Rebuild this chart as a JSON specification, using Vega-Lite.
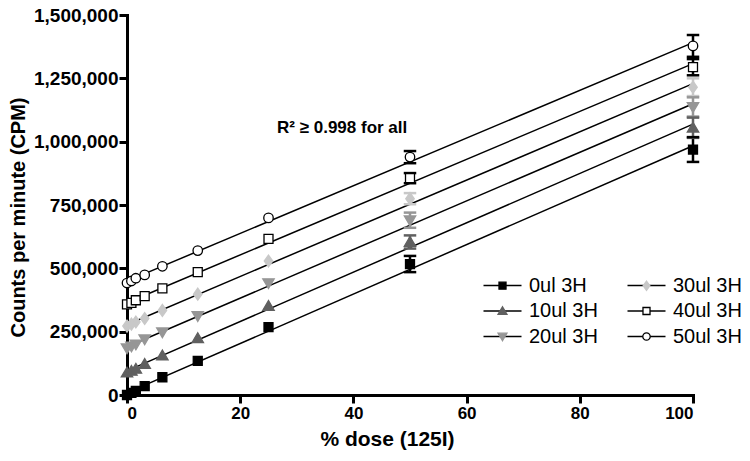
{
  "$schema": "https://vega.github.io/schema/vega-lite/v6.json",
  "width": 566,
  "height": 380,
  "autosize": {"type": "none"},
  "padding": {"left": 127, "top": 15, "right": 57, "bottom": 66},
  "background": "white",
  "config": {
    "view": {"stroke": null},
    "font": "Liberation Sans",
    "axis": {
      "domainColor": "#000", "domainWidth": 3, "domainCap": "square",
      "tickColor": "#000", "tickWidth": 3, "tickSize": 8,
      "labelFont": "Liberation Sans", "labelFontWeight": "bold", "labelFontSize": 18, "labelColor": "#000",
      "titleFont": "Liberation Sans", "titleFontWeight": "bold", "titleFontSize": 21, "titleColor": "#000",
      "grid": false
    },
    "legend": {
      "labelFont": "Liberation Sans", "labelFontSize": 20, "labelColor": "#000",
      "padding": 0, "columnPadding": 26, "rowPadding": 0.5, "symbolSize": 361, "labelOffset": 16
    }
  },
  "datasets": {
    "pts": [
      {"series": "0ul 3H", "dose": 0, "cpm": 0},
      {"series": "0ul 3H", "dose": 0.78, "cpm": 8000},
      {"series": "0ul 3H", "dose": 1.56, "cpm": 16000},
      {"series": "0ul 3H", "dose": 3.125, "cpm": 35000},
      {"series": "0ul 3H", "dose": 6.25, "cpm": 70000},
      {"series": "0ul 3H", "dose": 12.5, "cpm": 135000},
      {"series": "0ul 3H", "dose": 25, "cpm": 268000},
      {"series": "0ul 3H", "dose": 50, "cpm": 517000},
      {"series": "0ul 3H", "dose": 100, "cpm": 969000},
      {"series": "10ul 3H", "dose": 0, "cpm": 88000},
      {"series": "10ul 3H", "dose": 0.78, "cpm": 95000},
      {"series": "10ul 3H", "dose": 1.56, "cpm": 103000},
      {"series": "10ul 3H", "dose": 3.125, "cpm": 122000},
      {"series": "10ul 3H", "dose": 6.25, "cpm": 156000},
      {"series": "10ul 3H", "dose": 12.5, "cpm": 224000},
      {"series": "10ul 3H", "dose": 25, "cpm": 351000},
      {"series": "10ul 3H", "dose": 50, "cpm": 604000},
      {"series": "10ul 3H", "dose": 100, "cpm": 1055000},
      {"series": "20ul 3H", "dose": 0, "cpm": 185000},
      {"series": "20ul 3H", "dose": 0.78, "cpm": 192000},
      {"series": "20ul 3H", "dose": 1.56, "cpm": 200000},
      {"series": "20ul 3H", "dose": 3.125, "cpm": 220000},
      {"series": "20ul 3H", "dose": 6.25, "cpm": 248000},
      {"series": "20ul 3H", "dose": 12.5, "cpm": 312000},
      {"series": "20ul 3H", "dose": 25, "cpm": 442000},
      {"series": "20ul 3H", "dose": 50, "cpm": 690000},
      {"series": "20ul 3H", "dose": 100, "cpm": 1137000},
      {"series": "30ul 3H", "dose": 0, "cpm": 272000},
      {"series": "30ul 3H", "dose": 0.78, "cpm": 280000},
      {"series": "30ul 3H", "dose": 1.56, "cpm": 288000},
      {"series": "30ul 3H", "dose": 3.125, "cpm": 302000},
      {"series": "30ul 3H", "dose": 6.25, "cpm": 334000},
      {"series": "30ul 3H", "dose": 12.5, "cpm": 398000},
      {"series": "30ul 3H", "dose": 25, "cpm": 529000},
      {"series": "30ul 3H", "dose": 50, "cpm": 775000},
      {"series": "30ul 3H", "dose": 100, "cpm": 1215000},
      {"series": "40ul 3H", "dose": 0, "cpm": 358000},
      {"series": "40ul 3H", "dose": 0.78, "cpm": 364000},
      {"series": "40ul 3H", "dose": 1.56, "cpm": 374000},
      {"series": "40ul 3H", "dose": 3.125, "cpm": 390000},
      {"series": "40ul 3H", "dose": 6.25, "cpm": 421000},
      {"series": "40ul 3H", "dose": 12.5, "cpm": 485000},
      {"series": "40ul 3H", "dose": 25, "cpm": 616000},
      {"series": "40ul 3H", "dose": 50, "cpm": 856000},
      {"series": "40ul 3H", "dose": 100, "cpm": 1294000},
      {"series": "50ul 3H", "dose": 0, "cpm": 442000},
      {"series": "50ul 3H", "dose": 0.78, "cpm": 450000},
      {"series": "50ul 3H", "dose": 1.56, "cpm": 461000},
      {"series": "50ul 3H", "dose": 3.125, "cpm": 474000},
      {"series": "50ul 3H", "dose": 6.25, "cpm": 508000},
      {"series": "50ul 3H", "dose": 12.5, "cpm": 570000},
      {"series": "50ul 3H", "dose": 25, "cpm": 699000},
      {"series": "50ul 3H", "dose": 50, "cpm": 939000},
      {"series": "50ul 3H", "dose": 100, "cpm": 1378000}
    ],
    "errs": [
      {"series": "0ul 3H", "dose": 50, "lo": 485000, "hi": 549000},
      {"series": "10ul 3H", "dose": 50, "lo": 578000, "hi": 630000},
      {"series": "20ul 3H", "dose": 50, "lo": 660000, "hi": 720000},
      {"series": "30ul 3H", "dose": 50, "lo": 753000, "hi": 797000},
      {"series": "40ul 3H", "dose": 50, "lo": 836000, "hi": 876000},
      {"series": "50ul 3H", "dose": 50, "lo": 915000, "hi": 963000},
      {"series": "0ul 3H", "dose": 100, "lo": 920000, "hi": 1018000},
      {"series": "10ul 3H", "dose": 100, "lo": 1015000, "hi": 1095000},
      {"series": "20ul 3H", "dose": 100, "lo": 1099000, "hi": 1175000},
      {"series": "30ul 3H", "dose": 100, "lo": 1180000, "hi": 1250000},
      {"series": "40ul 3H", "dose": 100, "lo": 1262000, "hi": 1326000},
      {"series": "50ul 3H", "dose": 100, "lo": 1335000, "hi": 1421000}
    ]
  },
  "resolve": {"scale": {"stroke": "independent", "fill": "independent", "shape": "independent", "color": "independent"}},
  "layer": [
    {
      "data": {"name": "pts"},
      "transform": [{"regression": "cpm", "on": "dose", "groupby": ["series"], "extent": [0, 100]}],
      "mark": {"type": "line", "strokeWidth": 1.5},
      "encoding": {
        "x": {"field": "dose", "type": "quantitative", "scale": {"domain": [0, 100], "nice": false},
          "axis": {"title": "% dose (125I)", "values": [0, 20, 40, 60, 80, 100], "labelPadding": 2, "labelFontSize": 17,
            "titleX": 260, "titleY": 44, "titleBaseline": "middle", "titleAlign": "center"}},
        "y": {"field": "cpm", "type": "quantitative", "scale": {"domain": [0, 1500000], "nice": false},
          "axis": {"title": "Counts per minute (CPM)", "values": [0, 250000, 500000, 750000, 1000000, 1250000, 1500000],
            "labelExpr": "format(datum.value, ',')", "labelPadding": 1, "labelFontSize": 19, "titleFontSize": 20,
            "titleX": -109, "titleY": 202, "titleAngle": -90,
            "titleBaseline": "middle", "titleAlign": "center"}},
        "color": {"field": "series", "type": "nominal",
          "scale": {"domain": ["0ul 3H", "10ul 3H", "20ul 3H", "30ul 3H", "40ul 3H", "50ul 3H"],
            "range": ["#000", "#000", "#000", "#000", "#000", "#000"]},
          "legend": {"title": null, "orient": "none", "legendX": 365, "legendY": 260, "columns": 2,
            "symbolType": "M-2,0H2M0,-1M0,1", "symbolStrokeWidth": 1.5, "symbolStrokeColor": "#000"}}
      }
    },
    {
      "data": {"name": "errs"},
      "layer": [
        {"mark": {"type": "rule", "strokeWidth": 2.5},
          "encoding": {"x": {"field": "dose", "type": "quantitative"}, "y": {"field": "lo", "type": "quantitative"}, "y2": {"field": "hi"}}},
        {"mark": {"type": "tick", "orient": "horizontal", "size": 11, "thickness": 1, "filled": false, "strokeWidth": 1.5, "opacity": 1},
          "encoding": {"x": {"field": "dose", "type": "quantitative"}, "y": {"field": "lo", "type": "quantitative"}}},
        {"mark": {"type": "tick", "orient": "horizontal", "size": 11, "thickness": 1, "filled": false, "strokeWidth": 1.5, "opacity": 1},
          "encoding": {"x": {"field": "dose", "type": "quantitative"}, "y": {"field": "hi", "type": "quantitative"}}}
      ],
      "encoding": {
        "stroke": {"field": "series", "type": "nominal", "legend": null,
          "scale": {"domain": ["0ul 3H", "10ul 3H", "20ul 3H", "30ul 3H", "40ul 3H", "50ul 3H"],
            "range": ["#000000", "#606060", "#969696", "#c8c8c8", "#000000", "#000000"]}}
      }
    },
    {
      "data": {"name": "pts"},
      "mark": {"type": "point", "filled": true, "size": 590, "strokeWidth": 1.3, "opacity": 1},
      "encoding": {
        "x": {"field": "dose", "type": "quantitative"},
        "y": {"field": "cpm", "type": "quantitative"},
        "shape": {"field": "series", "type": "nominal",
          "scale": {"domain": ["0ul 3H", "10ul 3H", "20ul 3H", "30ul 3H", "40ul 3H", "50ul 3H"],
            "range": [
              "M-2,0M2,0M0,-1M0,1M-0.37,-0.37H0.37V0.37H-0.37Z",
              "M-2,0M2,0M0,-1M0,1M0,-0.45L0.47,0.35H-0.47Z",
              "M-2,0M2,0M0,-1M0,1M0,0.45L0.47,-0.35H-0.47Z",
              "M-2,0M2,0M0,-1M0,1M0,-0.49L0.35,0L0,0.49L-0.35,0Z",
              "M-2,0M2,0M0,-1M0,1M-0.37,-0.37H0.37V0.37H-0.37Z",
              "M-2,0M2,0M0,-1M0,1M0.39,0A0.39,0.39,0,1,1,-0.39,0A0.39,0.39,0,1,1,0.39,0Z"
            ]},
          "legend": {"title": null, "orient": "none", "legendX": 365, "legendY": 260, "columns": 2, "labelOpacity": 0, "symbolStrokeWidth": 1.3}},
        "fill": {"field": "series", "type": "nominal",
          "scale": {"domain": ["0ul 3H", "10ul 3H", "20ul 3H", "30ul 3H", "40ul 3H", "50ul 3H"],
            "range": ["#000000", "#606060", "#969696", "#c8c8c8", "#ffffff", "#ffffff"]},
          "legend": {"title": null, "orient": "none", "legendX": 365, "legendY": 260, "columns": 2, "labelOpacity": 0, "symbolStrokeWidth": 1.3}},
        "stroke": {"field": "series", "type": "nominal",
          "scale": {"domain": ["0ul 3H", "10ul 3H", "20ul 3H", "30ul 3H", "40ul 3H", "50ul 3H"],
            "range": ["#000000", "#606060", "#969696", "#c8c8c8", "#000000", "#000000"]},
          "legend": {"title": null, "orient": "none", "legendX": 365, "legendY": 260, "columns": 2, "labelOpacity": 0, "symbolStrokeWidth": 1.3}}
      }
    },
    {
      "data": {"values": [{}]},
      "mark": {"type": "text", "text": "R² ≥ 0.998 for all", "align": "left", "baseline": "middle",
        "fontWeight": "bold", "fontSize": 17, "font": "Liberation Sans", "color": "#000"},
      "encoding": {
        "x": {"datum": 26.5, "type": "quantitative"},
        "y": {"datum": 1054000, "type": "quantitative"}
      }
    }
  ]
}
